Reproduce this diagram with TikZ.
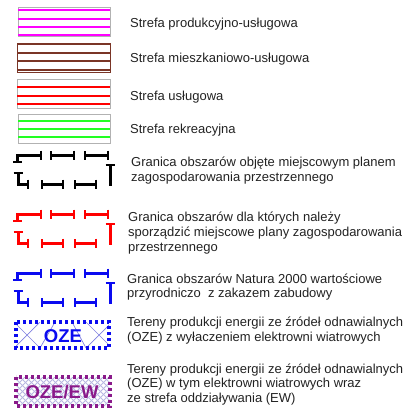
\documentclass[tikz,border=0pt]{standalone}
\usepackage{fontspec}
\setmainfont{Liberation Sans}
\usetikzlibrary{arrows.meta}
\definecolor{txt}{HTML}{222222}
\definecolor{mag}{HTML}{FF00FF}
\definecolor{brn}{HTML}{7A3526}
\definecolor{rd}{HTML}{FF0000}
\definecolor{grn}{HTML}{22FF22}
\definecolor{blu}{HTML}{0A0AF0}
\definecolor{pur}{HTML}{8A1A8A}
\definecolor{hatchb}{HTML}{8080E0}
\definecolor{hatchp}{HTML}{B8B8E2}
\begin{document}
\begin{tikzpicture}[x=1pt,y=-1pt,
 lbl/.style={anchor=west,inner sep=0,align=left,text=txt,font=\fontsize{13}{14.8}\selectfont},
 hbox/.style={draw=gray!60,line width=0.8pt},
 hl/.style={line width=1.8pt},
 bseg/.style={line width=3pt,{Bar[width=9pt,line width=2.4pt]}-{Bar[width=9pt,line width=2.4pt]}},
 bsegs/.style={line width=3pt,{Bar[width=9pt,line width=2.4pt]}-},
 dotbox/.style={line width=3.2pt,dash pattern=on 3.2pt off 2.8pt},
 sym/.style={font=\fontsize{18.5}{18.5}\selectfont\bfseries,inner sep=0},
]
\useasboundingbox (0,0) rectangle (403,416);
% hatched zone boxes
\draw[hbox] (18,7) rectangle (110,36);
\foreach \y in {10,19,27,35} \draw[hl,mag] (18,\y) -- (110,\y);
\draw[draw=brn,line width=0.8pt] (17,43) rectangle (110,72);
\foreach \y in {44,53,61,70} \draw[hl,brn] (17,\y) -- (110,\y);
\draw[hbox] (17,79) rectangle (110,108);
\foreach \y in {87,96,104} \draw[hl,rd] (17,\y) -- (110,\y);
\draw[hbox] (18,114) rectangle (110,143);
\foreach \y in {121,129,137} \draw[hl,grn] (18,\y) -- (110,\y);
% boundary symbols
\foreach \c/\t in {black/155,rd/214,blu/273}{
  \draw[bseg,\c] (17,\t+8) -- (17,\t) -- (42,\t);
  \draw[bseg,\c] (50,\t) -- (75,\t);
  \draw[bseg,\c] (84,\t) -- (109,\t);
  \draw[bsegs,\c] (110,\t+9) -- (110,\t+31);
  \draw[bseg,\c] (18,\t+17) -- (18,\t+29) -- (29,\t+29);
  \draw[bseg,\c] (41,\t+29) -- (64,\t+29);
  \draw[bseg,\c] (74,\t+29) -- (97,\t+29);
}
% OZE
\begin{scope}
\clip (16,322) rectangle (109,348);
\draw[hatchb,line width=0.7pt] (14,322) -- (40,348) (14,348) -- (40,322)
  (86,322) -- (112,348) (86,348) -- (112,322) (40,348) -- (55,322) (72,322) -- (86,348);
\end{scope}
\draw[dotbox,blu] (16,322) rectangle (109,348);
\node[sym,text=blu] (oze) at (63,336) {OZE};
% OZE/EW
\begin{scope}
\clip (16,377) rectangle (110,406);
\foreach \i in {-40,-34,...,120}{
  \draw[hatchp,line width=0.8pt] (\i,406) -- (\i+29,377);
  \draw[hatchp,line width=0.8pt] (\i,377) -- (\i+29,406);
}
\end{scope}
\draw[dotbox,pur] (16,377) rectangle (110,406);
\node[sym,text=pur] (ozeew) at (62,392) {OZE/EW};
% labels
\node[lbl] (t1) at (130,24) {Strefa produkcyjno-usługowa};
\node[lbl] (t2) at (130,59) {Strefa mieszkaniowo-usługowa};
\node[lbl] (t3) at (130,97) {Strefa usługowa};
\node[lbl] (t4) at (130,130) {Strefa rekreacyjna};
\node[lbl] (t5) at (131,170.5) {Granica obszarów objęte miejscowym planem\\zagospodarowania przestrzennego};
\node[lbl] (t6) at (128,233) {Granica obszarów dla których należy\\sporządzić miejscowe plany zagospodarowania\\przestrzennego};
\node[lbl] (t7) at (127,287) {Granica obszarów Natura 2000 wartościowe\\przyrodniczo\ \ z zakazem zabudowy};
\node[lbl] (t8) at (127,330.5) {Tereny produkcji energii ze źródeł odnawialnych\\(OZE) z wyłaczeniem elektrowni wiatrowych};
\node[lbl] (t9) at (127,384.5) {Tereny produkcji energii ze źródeł odnawialnych\\(OZE) w tym elektrowni wiatrowych wraz\\ze strefa oddziaływania (EW)};
\end{tikzpicture}
\end{document}
